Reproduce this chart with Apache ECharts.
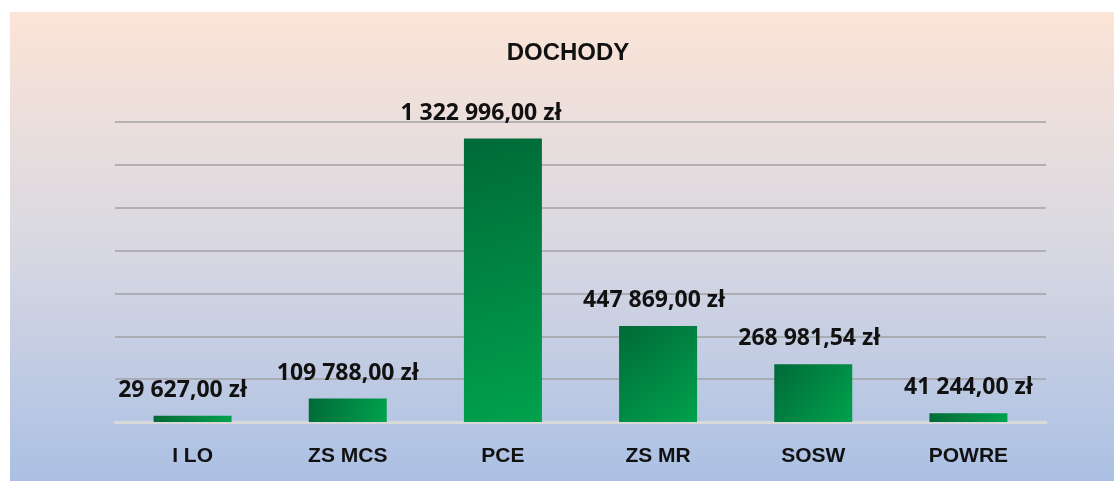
<!DOCTYPE html>
<html>
<head>
<meta charset="utf-8">
<script src="https://cdn.jsdelivr.net/npm/echarts@6/dist/echarts.min.js"></script>
<style>
  html, body { margin: 0; padding: 0; background: #ffffff; }
  #chart { position: absolute; left: 10px; top: 12px; width: 1104px; height: 469px; }
</style>
</head>
<body>
<div id="chart"></div>
<script>
var categories = ['I LO', 'ZS MCS', 'PCE', 'ZS MR', 'SOSW', 'POWRE'];
var values = [29627, 109788, 1322996, 447869, 268981.54, 41244];
var yMax = 1400000;
var yStep = 200000;

// format like "1 322 996,00 zł"
function formatZl(v) {
  var parts = v.toFixed(2).split('.');
  var intPart = parts[0].replace(/\B(?=(\d{3})+(?!\d))/g, ' ');
  return intPart + ',' + parts[1] + ' zł';
}

// labels in the original sit a bit left of some bars
var labelShift = { 'I LO': -10, 'PCE': -22, 'ZS MR': -4, 'SOSW': -4 };

var seriesData = [];
for (var i = 0; i < values.length; i++) {
  var item = { value: values[i] };
  if (labelShift[categories[i]]) {
    item.label = { offset: [labelShift[categories[i]], 0] };
  }
  seriesData.push(item);
}

var chart = echarts.init(document.getElementById('chart'));
chart.setOption({
  backgroundColor: new echarts.graphic.LinearGradient(0, 0, 0, 1, [
    { offset: 0, color: '#fce4d6' },
    { offset: 0.5, color: '#d8d8e2' },
    { offset: 1, color: '#abc0e4' }
  ]),
  title: {
    text: 'DOCHODY',
    left: 553,
    textAlign: 'center',
    top: 24,
    textStyle: { fontFamily: 'Liberation Sans', fontWeight: 'bold', fontSize: 24, color: '#111111' }
  },
  grid: { left: 105, right: 68, top: 110, bottom: 59 },
  xAxis: {
    type: 'category',
    data: categories,
    axisLine: { lineStyle: { color: '#d9d9d9', width: 3 } },
    axisTick: { show: false },
    axisLabel: {
      margin: 24,
      fontFamily: 'Liberation Sans',
      fontWeight: 'bold',
      fontSize: 21,
      color: '#111111'
    }
  },
  yAxis: {
    type: 'value',
    min: 0,
    max: yMax,
    interval: yStep,
    axisLine: { show: false },
    axisTick: { show: false },
    axisLabel: { show: false },
    splitLine: { lineStyle: { color: '#a2a2a6', width: 1.5 } }
  },
  series: [{
    type: 'bar',
    data: seriesData,
    barWidth: 78,
    itemStyle: {
      color: new echarts.graphic.LinearGradient(0, 0, 1, 1, [
        { offset: 0, color: '#006a38' },
        { offset: 1, color: '#00a24d' }
      ])
    },
    label: {
      show: true,
      position: 'top',
      distance: 14,
      formatter: function (p) { return formatZl(p.value); },
      fontFamily: 'Open Sans',
      fontWeight: 'bold',
      fontSize: 23,
      color: '#111111'
    }
  }]
});
</script>
</body>
</html>
